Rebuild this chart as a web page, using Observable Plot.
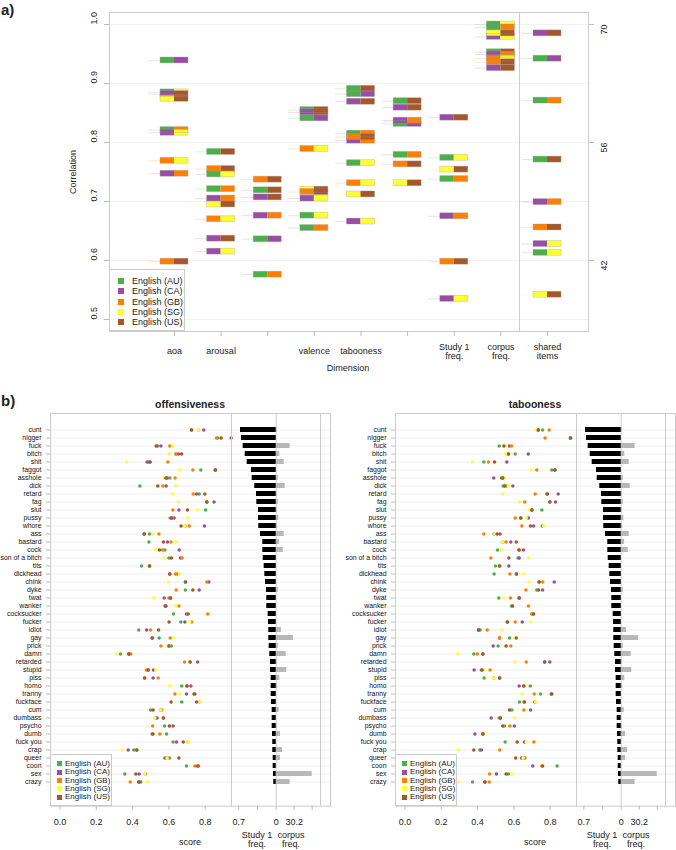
<!DOCTYPE html>
<html><head><meta charset="utf-8">
<script src="https://cdn.jsdelivr.net/npm/d3@7"></script>
<script src="https://cdn.jsdelivr.net/npm/@observablehq/plot@0.6"></script>
<style>
body{margin:0;background:#fff;font-family:"Liberation Sans",Arial,sans-serif;color:#222;}
#root{position:relative;width:676px;height:850px;overflow:hidden;}
.t{position:absolute;white-space:nowrap;}
.c{transform:translate(-50%,-50%);text-align:center;}
.leg{position:absolute;background:#fff;border:1px solid #ccc;box-sizing:border-box;}
.li{position:absolute;white-space:nowrap;}
.sw{position:absolute;}
</style></head><body><div id="root"></div>
<script>
// ---------- shared ----------
const dialects = ["AU","CA","GB","SG","US"];
const dialectNames = ["English (AU)","English (CA)","English (GB)","English (SG)","English (US)"];
const dialectColors = ["#4daf4a","#984ea3","#ff7f00","#ffff33","#a65628"];

// ---------- panel a data ----------
const dimLabels = ["aoa","arousal","","valence","tabooness","","Study 1\nfreq.","corpus\nfreq.","shared\nitems"];
const corrTicks = [0.5,0.6,0.7,0.8,0.9,1.0];
const rightTickLabels = [42,56,70];
const rightAxisScale = 70;
// [correlation, dialect left half, dialect right half]
const colAoa = [[0.939,"AU","CA"],[0.885,"AU","SG"],[0.882,"CA","US"],[0.874,"SG","US"],[0.821,"AU","GB"],[0.8165,"CA","SG"],[0.769,"GB","SG"],[0.747,"CA","GB"],[0.598,"GB","US"]];
const colArousal = [[0.784,"AU","US"],[0.755,"GB","US"],[0.746,"AU","SG"],[0.721,"AU","GB"],[0.705,"CA","GB"],[0.695,"SG","US"],[0.670,"GB","SG"],[0.637,"CA","US"],[0.615,"CA","SG"]];
const colDim3 = [[0.737,"GB","US"],[0.719,"AU","US"],[0.707,"CA","US"],[0.676,"CA","GB"],[0.636,"AU","CA"],[0.576,"AU","GB"]];
const colValence = [[0.855,"AU","US"],[0.851,"CA","US"],[0.841,"AU","CA"],[0.789,"GB","SG"],[0.720,"SG","US"],[0.716,"GB","US"],[0.705,"CA","SG"],[0.676,"AU","SG"],[0.655,"AU","GB"]];
const colTabooness = [[0.891,"AU","US"],[0.882,"AU","CA"],[0.869,"CA","US"],[0.815,"AU","GB"],[0.803,"CA","GB"],[0.809,"GB","US"],[0.765,"AU","SG"],[0.731,"GB","SG"],[0.712,"SG","US"],[0.666,"CA","SG"]];
const colDim6 = [[0.870,"AU","US"],[0.859,"CA","US"],[0.8315,"AU","CA"],[0.837,"CA","GB"],[0.779,"AU","GB"],[0.763,"GB","US"],[0.731,"SG","US"]];
const colStudy1 = [[0.842,"CA","US"],[0.774,"AU","SG"],[0.754,"SG","US"],[0.738,"AU","GB"],[0.675,"CA","GB"],[0.598,"GB","US"],[0.535,"CA","SG"]];
const colCorpus = [[1.000,"AU","SG"],[0.995,"AU","GB"],[0.979,"CA","SG"],[0.985,"SG","US"],[0.953,"AU","US"],[0.949,"CA","GB"],[0.942,"GB","SG"],[0.936,"GB","US"],[0.926,"CA","US"]];
const colShared = [[0.985,"CA","US"],[0.942,"AU","CA"],[0.871,"AU","GB"],[0.771,"AU","US"],[0.699,"CA","GB"],[0.656,"GB","US"],[0.628,"CA","SG"],[0.613,"AU","SG"],[0.542,"SG","US"]];

// ---------- panel b data ----------
const words = ["cunt","nigger","fuck","bitch","shit","faggot","asshole","dick","retard","fag","slut","pussy","whore","ass","bastard","cock","son of a bitch","tits","dickhead","chink","dyke","twat","wanker","cocksucker","fucker","idiot","gay","prick","damn","retarded","stupid","piss","homo","tranny","fuckface","cum","dumbass","psycho","dumb","fuck you","crap","queer","coon","sex","crazy"];
const study1Freq = [0.668,0.650,0.618,0.580,0.543,0.462,0.449,0.401,0.369,0.363,0.331,0.331,0.326,0.294,0.251,0.251,0.243,0.225,0.213,0.200,0.182,0.176,0.176,0.150,0.144,0.139,0.139,0.131,0.120,0.107,0.107,0.094,0.094,0.094,0.088,0.075,0.075,0.075,0.069,0.064,0.064,0.056,0.056,0.051,0.045];
const corpusFreq = [0.8,0,11.7,3.0,6.7,0,1.7,7.6,0.8,1.7,0.8,2.2,1.3,6.7,2.8,5.9,0,0,0,0,1.7,0,0,0,0,4.4,14.5,1.7,8.4,0.8,8.9,3.0,1.3,0,0,2.5,0,0.8,3.6,0,5.3,3.6,0,30.2,11.7];
const scoreTicks = [0.0,0.2,0.4,0.6,0.8];
const study1Max = 0.7;
const corpusMax = 30.2;
const barTickLabels = ["0.7","","0","30.2",""];

const offAU = [.763,.870,.538,.640,.490,.776,.605,.440,.767,.809,.802,.607,.690,.493,.490,.578,.600,.449,.646,.691,.691,.609,.578,.625,.666,.434,.546,.614,.333,.717,.486,.466,.671,.737,.671,.499,.525,.576,.587,.623,.407,.603,.697,.357,.445];
const offCA = [.792,.943,.556,.653,.480,.855,.590,.585,.752,.849,.655,.629,.796,.464,.592,.657,.664,.493,.605,.820,.767,.574,.583,.697,.688,.477,.508,.600,.379,.758,.515,.513,.721,.697,.752,.554,.535,.623,.508,.642,.376,.578,.763,.436,.434];
const offGB = [.725,.862,.605,.638,.594,.732,.634,.567,.734,.809,.622,.618,.712,.545,.611,.565,.673,.493,.636,.809,.640,.600,.655,.814,.725,.499,.607,.556,.390,.686,.476,.541,.699,.633,.770,.561,.570,.511,.550,.704,.423,.590,.743,.470,.387];
const offSG = [.763,.888,.620,.601,.367,.658,.572,.638,.622,.653,.756,.702,.688,.513,.638,.528,.574,.493,.658,.598,.732,.515,.638,.706,.715,.543,.629,.600,.313,.717,.528,.466,.605,.660,.772,.555,.522,.603,.515,.704,.344,.590,.758,.466,.480];
const offUS = [.725,.888,.530,.670,.497,.857,.583,.539,.798,.809,.702,.614,.667,.464,.570,.548,.614,.493,.605,.691,.732,.609,.583,.706,.601,.543,.508,.600,.379,.717,.486,.466,.700,.743,.612,.513,.570,.603,.512,.679,.423,.655,.758,.418,.435];

const tabAU = [.758,.912,.519,.607,.434,.809,.532,.541,.781,.798,.754,.638,.756,.491,.537,.510,.623,.499,.491,.739,.726,.517,.587,.700,.563,.414,.576,.513,.379,.769,.421,.436,.690,.747,.631,.589,.519,.548,.430,.552,.412,.660,.838,.570,.372];
const tabCA = [.734,.912,.574,.679,.561,.826,.489,.594,.844,.829,.699,.680,.708,.524,.583,.653,.629,.572,.614,.822,.758,.629,.592,.708,.646,.405,.521,.486,.429,.798,.381,.521,.629,.809,.715,.692,.475,.603,.385,.658,.421,.642,.704,.504,.440];
const tabGB = [.794,.772,.587,.570,.460,.726,.539,.559,.717,.660,.699,.607,.644,.434,.556,.631,.473,.521,.578,.759,.666,.581,.680,.699,.607,.453,.521,.583,.398,.668,.469,.489,.653,.712,.657,.655,.526,.578,.427,.710,.522,.651,.754,.466,.464];
const tabSG = [.723,.912,.559,.554,.372,.695,.550,.568,.537,.631,.684,.668,.763,.495,.537,.532,.682,.521,.651,.684,.736,.545,.592,.708,.691,.535,.605,.557,.291,.605,.434,.489,.660,.644,.719,.576,.603,.539,.438,.668,.293,.651,.758,.589,.295];
const tabUS = [.734,.912,.545,.570,.493,.826,.539,.550,.785,.798,.699,.638,.691,.508,.613,.627,.572,.521,.614,.739,.736,.629,.592,.708,.565,.405,.613,.557,.429,.769,.425,.521,.655,.806,.657,.576,.526,.539,.430,.618,.379,.610,.758,.557,.440];

// ---------- helpers ----------
const root = document.getElementById("root");
const FONT = "'Liberation Sans', Arial, sans-serif";
function place(svg, left, top){ svg.style.position="absolute"; svg.style.left=left+"px"; svg.style.top=top+"px"; root.appendChild(svg); }
function label(html, x, y, css, center=true){
  const d=document.createElement("div"); d.className = center ? "t c" : "t";
  d.innerHTML=html; d.style.left=x+"px"; d.style.top=y+"px"; d.style.cssText += css; root.appendChild(d); return d;
}
function legend(left, top, w, h, sq, fs, rowStep, firstRow, sqLeft, txtLeft){
  const L=document.createElement("div"); L.className="leg";
  L.style.left=left+"px"; L.style.top=top+"px"; L.style.width=w+"px"; L.style.height=h+"px";
  dialects.forEach((d,i)=>{
    const cy = firstRow + i*rowStep;
    const s=document.createElement("div"); s.className="sw";
    s.style.cssText=`left:${sqLeft}px;top:${cy-sq/2}px;width:${sq}px;height:${sq}px;background:${dialectColors[i]};`;
    const t=document.createElement("div"); t.className="li";
    t.style.cssText=`left:${txtLeft}px;top:${cy}px;transform:translateY(-50%);font-size:${fs}px;line-height:1;color:#222;`;
    t.textContent=dialectNames[i];
    L.appendChild(s); L.appendChild(t);
  });
  root.appendChild(L);
}

// ---------- panel a ----------
const colsA = [colAoa,colArousal,colDim3,colValence,colTabooness,colDim6,colStudy1,colCorpus,colShared];
const boxes = colsA.flatMap((arr,i)=>arr.map(([v,a,b])=>({col:i+1,v,a,b})));
const colIdx = dimLabels.map((_,i)=>i+1);
const HALF_W = 0.3, HALF_H = 0.005;
const xDomA = [-0.394, 9.879], yDomA = [0.4797, 1.0203];
const dividerA = 8.4;

const plotA = Plot.plot({
  width:676, height:375, marginLeft:109, marginRight:88, marginTop:12, marginBottom:44,
  style:{fontFamily:FONT, fontSize:"9px", color:"#222", background:"transparent"},
  x:{domain:xDomA}, y:{domain:yDomA},
  color:{domain:dialects, range:dialectColors},
  marks:[
    Plot.ruleY(corrTicks,{stroke:"#000", strokeOpacity:0.06}),
    Plot.ruleX([dividerA],{stroke:"#ccc"}),
    Plot.frame({stroke:"#ccc"}),
    Plot.axisY({ticks:corrTicks, tickSize:5, tickFormat:()=>"", stroke:"#bbb", label:null}),
    Plot.axisY({anchor:"right", ticks:rightTickLabels.map(t=>t/rightAxisScale), tickSize:5, tickFormat:()=>"", stroke:"#bbb", label:null}),
    Plot.axisX({ticks:colIdx, tickSize:5, tickFormat:()=>"", stroke:"#bbb", label:null}),
    Plot.text(corrTicks,{y:d=>d, text:d=>d.toFixed(1), frameAnchor:"left", dx:-15, rotate:-90, fontSize:9, fill:"#222"}),
    Plot.text(rightTickLabels,{y:d=>d/rightAxisScale, text:d=>String(d), frameAnchor:"right", dx:16, rotate:-90, fontSize:9, fill:"#222"}),
    Plot.text(colIdx,{x:d=>d, text:d=>dimLabels[d-1], frameAnchor:"bottom", dy:20, lineAnchor:"middle", fontSize:9, fill:"#222"}),
    Plot.ruleY(boxes,{y:"v", x1:d=>d.col-0.55, x2:d=>d.col-HALF_W, stroke:"a", strokeOpacity:0.2}),
    Plot.rect(boxes,{x1:d=>d.col-HALF_W, x2:"col", y1:d=>d.v-HALF_H, y2:d=>d.v+HALF_H, fill:"a"}),
    Plot.rect(boxes,{x1:"col", x2:d=>d.col+HALF_W, y1:d=>d.v-HALF_H, y2:d=>d.v+HALF_H, fill:"b"}),
    Plot.rect(boxes,{x1:d=>d.col-HALF_W, x2:d=>d.col+HALF_W, y1:d=>d.v-HALF_H, y2:d=>d.v+HALF_H, fill:"none", stroke:"#999", strokeOpacity:0.4, strokeWidth:0.8})
  ]
});
place(plotA, 0, 0);
label("a)", 1, 1, "font-weight:bold;font-size:15px;", false);
label("Correlation", 73, 172, "font-size:9px;transform:translate(-50%,-50%) rotate(-90deg);");
label("Dimension", 348, 368, "font-size:9px;");
legend(109, 269, 76, 62, 6, 9, 10.35, 11, 8, 22);

// ---------- panel b ----------
const SK = 37.4/study1Max;   // px-units per Study 1 freq unit
const CK = 36/corpusMax;     // px-units per corpus freq unit
const freqRows = words.map((w,i)=>({word:w, study:study1Freq[i], corpus:corpusFreq[i]}));
const barTicks = [-study1Max*SK, -study1Max/2*SK, 0, corpusMax/2*CK, corpusMax*CK];

function bPanel(offsetX, scores, title){
  const dots = [];
  dialects.forEach((d,k)=>scores[k].forEach((s,i)=>dots.push({word:words[i], dialect:d, score:s})));
  const yScale = {type:"band", domain:words, paddingInner:0.334, paddingOuter:0, align:0.5, insetTop:11.6, insetBottom:19};
  const common = {height:455, marginTop:18, marginBottom:44.3,
    style:{fontFamily:FONT, fontSize:"9px", color:"#111", background:"transparent", overflow:"visible"}};
  const dotPlot = Plot.plot({...common, width:241, marginLeft:60, marginRight:0,
    x:{domain:[-0.0523,0.9449]}, y:yScale,
    color:{domain:dialects, range:dialectColors},
    marks:[
      Plot.gridY({stroke:"#000", strokeOpacity:0.07}),
      Plot.frame({stroke:"#ccc"}),
      Plot.axisY({tickSize:4, tickPadding:5, stroke:"#bbb", fill:"#111", fontSize:6.9, label:null}),
      Plot.axisX({ticks:scoreTicks, tickFormat:d=>d.toFixed(1), tickSize:4, tickPadding:8, stroke:"#bbb", fill:"#222", fontSize:9, label:null}),
      Plot.dot(dots,{x:"score", y:"word", fill:"dialect", r:1.75})
    ]});
  const barPlot = Plot.plot({...common, width:99, marginLeft:0, marginRight:0,
    x:{domain:[-44.7,54.3]}, y:{...yScale, axis:null},
    marks:[
      Plot.gridY({stroke:"#000", strokeOpacity:0.07}),
      Plot.ruleX([0],{stroke:"#ccc"}),
      Plot.ruleX([44.3],{stroke:"#ccc"}),
      Plot.frame({stroke:"#ccc"}),
      Plot.axisX({ticks:barTicks, tickFormat:(d,i)=>barTickLabels[i], tickSize:4, tickPadding:8, stroke:"#bbb", fill:"#222", fontSize:9, label:null}),
      Plot.barX(freqRows,{y:"word", x1:0, x2:d=>d.corpus*CK, fill:"#b8b8b8"}),
      Plot.barX(freqRows,{y:"word", x1:d=>-d.study*SK, x2:0, fill:"#000"})
    ]});
  place(dotPlot, offsetX-10, 395);
  place(barPlot, offsetX+231, 395);
  label(title, offsetX+190, 404, "font-weight:bold;font-size:10.5px;");
  label("score", offsetX+190, 842, "font-size:9px;");
  label("Study 1<br>freq.", offsetX+257, 839.5, "font-size:9px;line-height:9.5px;");
  label("corpus<br>freq.", offsetX+291, 839.5, "font-size:9px;line-height:9.5px;");
  legend(offsetX+50, 754, 62, 52, 5, 8, 8.4, 8.7, 6, 14);
}
bPanel(0, [offAU,offCA,offGB,offSG,offUS], "offensiveness");
bPanel(345, [tabAU,tabCA,tabGB,tabSG,tabUS], "tabooness");
label("b)", 1, 392, "font-weight:bold;font-size:15px;", false);
</script></body></html>
